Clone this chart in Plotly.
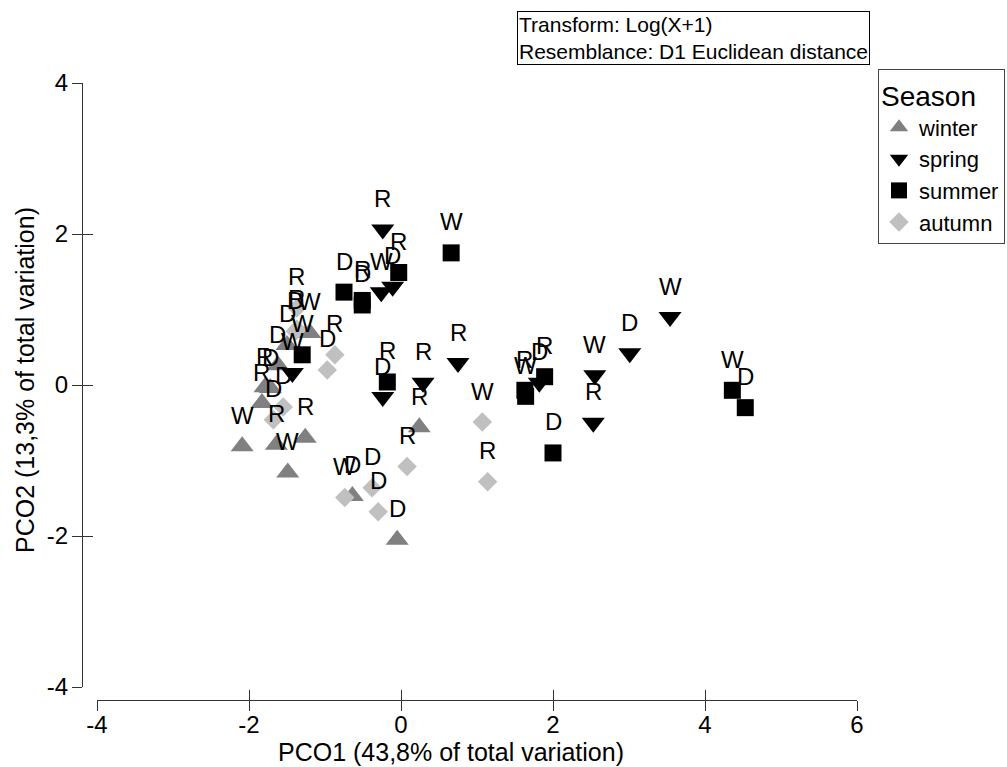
import plotly.graph_objects as go

# ---- data ----
winter_x = [-1.20, -1.50, -1.62, -1.79, -1.72, -1.83, -2.09, -1.64, -1.26, -1.49, 0.24, -0.64, -0.05]
winter_y = [0.69, 0.53, 0.26, -0.03, -0.04, -0.24, -0.81, -0.79, -0.70, -1.16, -0.56, -1.47, -2.05]
winter_lab = ["W", "D", "D", "R", "D", "R", "W", "R", "R", "W", "R", "D", "D"]

spring_x = [-0.24, -0.26, -0.11, 0.75, -0.24, 0.29, 1.82, 3.54, 3.01, 2.55, 2.53, -1.43]
spring_y = [2.06, 1.23, 1.30, 0.29, -0.16, 0.03, 0.03, 0.90, 0.42, 0.13, -0.50, 0.16]
spring_lab = ["R", "W", "D", "R", "D", "R", "D", "W", "D", "W", "R", "W"]

summer_x = [-0.03, -0.75, -0.51, -0.51, 0.66, -0.18, 1.64, 1.63, 1.89, 2.00, 4.36, 4.53, -1.30]
summer_y = [1.49, 1.23, 1.12, 1.06, 1.75, 0.04, -0.15, -0.07, 0.11, -0.90, -0.07, -0.30, 0.40]
summer_lab = ["R", "D", "R", "D", "W", "R", "W", "R", "R", "D", "W", "D", "W"]

autumn_x = [-1.37, -1.37, -1.39, -0.87, -0.97, -1.55, -1.68, -0.74, -0.38, -0.30, 0.08, 1.07, 1.14]
autumn_y = [1.02, 0.74, 0.71, 0.40, 0.20, -0.29, -0.46, -1.49, -1.36, -1.68, -1.08, -0.49, -1.28]
autumn_lab = ["R", "R", "D", "R", "D", "D", "D", "W", "D", "D", "R", "W", "R"]

x_ticks = [-4, -2, 0, 2, 4, 6]
x_tick_text = ["-4", "-2", "0", "2", "4", "6"]
y_ticks = [-4, -2, 0, 2, 4]
y_tick_text = ["-4", "-2", "0", "2", "4"]

FONT = "Liberation Sans, Arial, sans-serif"

series = [
    ("winter", winter_x, winter_y, winter_lab, "triangle-up", "#808080", 20),
    ("spring", spring_x, spring_y, spring_lab, "triangle-down", "#000000", 20),
    ("summer", summer_x, summer_y, summer_lab, "square", "#000000", 17),
    ("autumn", autumn_x, autumn_y, autumn_lab, "diamond", "#c0c0c0", 15),
]

fig = go.Figure()
annotations = []
for name, xs, ys, labs, sym, col, size in series:
    fig.add_trace(go.Scatter(
        x=xs, y=ys, mode="markers", name=name,
        marker=dict(symbol=sym, color=col, size=size, line=dict(width=0)),
        hoverinfo="skip",
    ))
    for xv, yv, lv in zip(xs, ys, labs):
        annotations.append(dict(
            x=xv, y=yv, xref="x", yref="y", text=lv, showarrow=False,
            yshift=31, font=dict(family=FONT, size=24, color="black"),
        ))

# invisible trace for the overlay axes (inside half of crossing ticks)
fig.add_trace(go.Scatter(x=[None], y=[None], xaxis="x2", yaxis="y2",
                         showlegend=False, hoverinfo="skip"))

L, R, T, B = 82, 150, 83, 67
W, H = 1007, 767
pw, ph = W - L - R, H - T - B
xdom = [(97 - L) / pw, 1]
ydom = [(700 - 687) / ph, 1]

axis_common = dict(showgrid=False, zeroline=False, showline=True,
                   linecolor="#333", linewidth=1, tickcolor="#333",
                   tickwidth=1, ticklen=10, automargin=False)

# axis titles
annotations.append(dict(
    text="PCO1 (43,8% of total variation)", xref="paper", yref="paper",
    x=(451 - L) / pw, y=(700 - 752) / ph, xanchor="center", yanchor="middle",
    showarrow=False, font=dict(family=FONT, size=25, color="black")))
annotations.append(dict(
    text="PCO2 (13,3% of total variation)", xref="paper", yref="paper",
    x=(25 - L) / pw, y=(700 - 380) / ph, xanchor="center", yanchor="middle",
    showarrow=False, textangle=-90,
    font=dict(family=FONT, size=25, color="black")))
# info box
annotations.append(dict(
    text="Transform: Log(X+1)<br>Resemblance: D1 Euclidean distance",
    xref="paper", yref="paper", x=(517 - L) / pw, y=(700 - 11) / ph,
    xanchor="left", yanchor="top", align="left", showarrow=False,
    bordercolor="#000", borderwidth=1, borderpad=1, bgcolor="white",
    font=dict(family=FONT, size=21, color="black")))

fig.update_layout(
    template="none",
    width=W, height=H,
    margin=dict(l=L, r=R, t=T, b=B, pad=0, autoexpand=False),
    paper_bgcolor="white", plot_bgcolor="white",
    font=dict(family=FONT, color="black"),
    xaxis=dict(range=[-4, 6], domain=xdom, anchor="free", position=0,
               tickvals=x_ticks, ticktext=x_tick_text, ticks="outside",
               ticklabelstandoff=-7,
               tickfont=dict(family=FONT, size=24, color="black"), **axis_common),
    yaxis=dict(range=[-4, 4], domain=ydom, anchor="free", position=0,
               tickvals=y_ticks, ticktext=y_tick_text, ticks="outside",
               ticklabelstandoff=-1,
               tickfont=dict(family=FONT, size=24, color="black"), **axis_common),
    xaxis2=dict(range=[-4, 6], domain=xdom, anchor="free", position=0,
                overlaying="x", tickvals=x_ticks, ticks="inside",
                showticklabels=False, **axis_common),
    yaxis2=dict(range=[-4, 4], domain=ydom, anchor="free", position=0,
                overlaying="y", tickvals=y_ticks, ticks="inside",
                showticklabels=False, **axis_common),
    legend=dict(x=(878 - L) / pw, y=(700 - 69) / ph, xanchor="left", yanchor="top",
                bordercolor="#444", borderwidth=1, bgcolor="white",
                font=dict(family=FONT, size=22, color="black"),
                title=dict(text="Season", font=dict(family=FONT, size=28, color="black")),
                tracegroupgap=0),
    annotations=annotations,
    showlegend=True,
)

fig.write_html("out.html", config={"displayModeBar": False},
               post_script="document.body.style.margin='0';")
